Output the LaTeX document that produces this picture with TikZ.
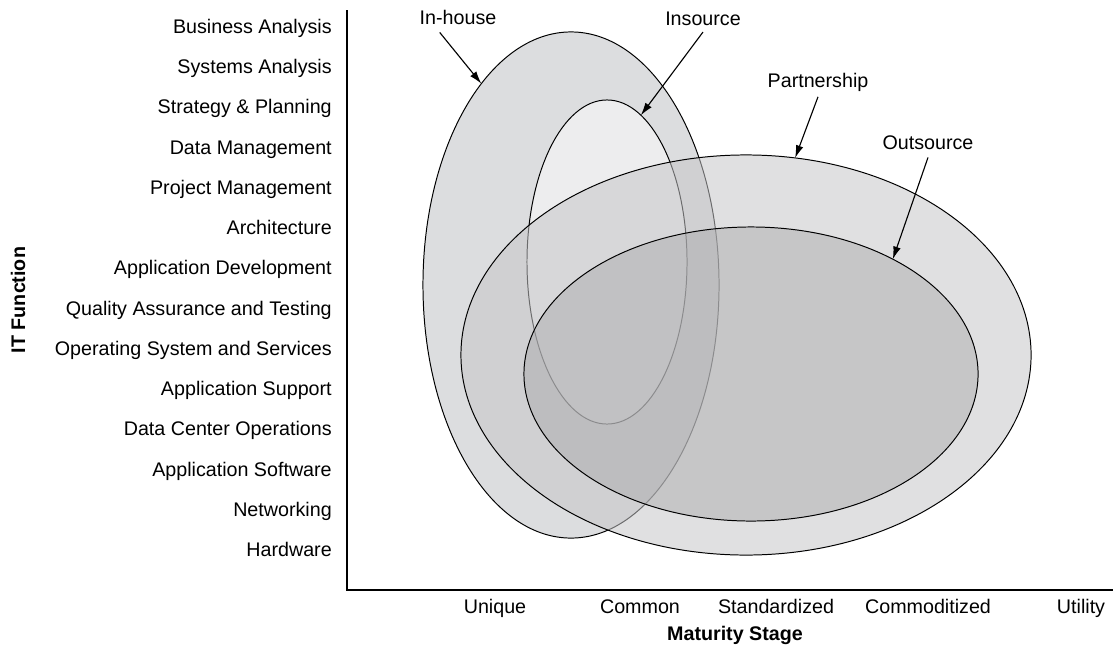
\documentclass[tikz,border=0pt]{standalone}
\usepackage{fontspec}
\setmainfont{Liberation Sans}
\usepackage{tikz}
\usetikzlibrary{shapes.geometric,arrows.meta}

\definecolor{inhousegray}{HTML}{DCDDDF}
\definecolor{insourcegray}{HTML}{EDEDEE}
\definecolor{partnergray}{HTML}{C6C6C8}
\definecolor{outsourcegray}{HTML}{ACACAE}

\tikzset{
  lab/.style={font=\fontsize{14}{16}\selectfont, inner sep=0pt},
  row/.style={lab, anchor=base east},
  stage/.style={lab, anchor=base},
  tag/.style={lab, anchor=base},
  axistitle/.style={font=\fontsize{14}{16}\selectfont\bfseries, inner sep=0pt},
  region/.style={ellipse, draw=black, line width=0.7pt, inner sep=0pt, outer sep=0pt},
  pointer/.style={-{Latex[length=9pt,width=5.5pt]}, line width=0.8pt},
}

\begin{document}
\begin{tikzpicture}[x=0.025cm, y=-0.025cm]
\useasboundingbox (0,0) rectangle (1115,651);

% IT functions
\path (332,33) node[row] (r1) {Business Analysis}
      (332,73) node[row] (r2) {Systems Analysis}
      (332,113) node[row] (r3) {Strategy \& Planning}
      (332,154) node[row] (r4) {Data Management}
      (332,194) node[row] (r5) {Project Management}
      (332,234) node[row] (r6) {Architecture}
      (332,274) node[row] (r7) {Application Development}
      (332,315) node[row] (r8) {Quality Assurance and Testing}
      (332,355) node[row] (r9) {Operating System and Services}
      (332,395) node[row] (r10) {Application Support}
      (332,435) node[row] (r11) {Data Center Operations}
      (332,476) node[row] (r12) {Application Software}
      (332,516) node[row] (r13) {Networking}
      (332,556) node[row] (r14) {Hardware}
      ;

% maturity stages
\path (495,613) node[stage] (unique) {Unique}
      (640,613) node[stage] (common) {Common}
      (776,613) node[stage] (standard) {Standardized}
      (928,613) node[stage] (commodity) {Commoditized}
      (1081,613) node[stage] (utility) {Utility}
      (735,640) node[axistitle, anchor=base] (xtitle) {Maturity Stage}
      (18,300) node[axistitle, rotate=90] (ytitle) {IT Function}
      ;

% axes
\coordinate (origin) at (347,590);
\draw[line width=0.8pt] (347,10) -- (origin) -- (1113,590);

% sourcing regions
\node[region, fill=inhousegray, minimum width=7.4cm, minimum height=12.65cm] (inhouse) at (571,285) {};
\node[region, fill=insourcegray, minimum width=4cm, minimum height=8.1cm] (insource) at (607,262) {};
\node[region, fill=partnergray, fill opacity=.54, minimum width=14.25cm, minimum height=10cm] (partner) at (746,355) {};
\node[region, fill=outsourcegray, fill opacity=.5, minimum width=11.35cm, minimum height=7.35cm] (outsource) at (751,374) {};

% labels
\path (458,24) node[tag] (inhouselbl) {In-house}
      (703,25) node[tag] (insourcelbl) {Insource}
      (818,87) node[tag] (partnerlbl) {Partnership}
      (928,149) node[tag] (outsourcelbl) {Outsource}
      ;

\draw[pointer] ([xshift=-13pt,yshift=-6pt]inhouselbl.base) -- (inhouse.114.5);
\draw[pointer] ([yshift=-5pt]insourcelbl.base) -- (insource.77.6);
\draw[pointer] ([yshift=-7pt]partnerlbl.base) -- (partner.76.4);
\draw[pointer] ([yshift=-6pt]outsourcelbl.base) -- (outsource.39.9);
\end{tikzpicture}
\end{document}
